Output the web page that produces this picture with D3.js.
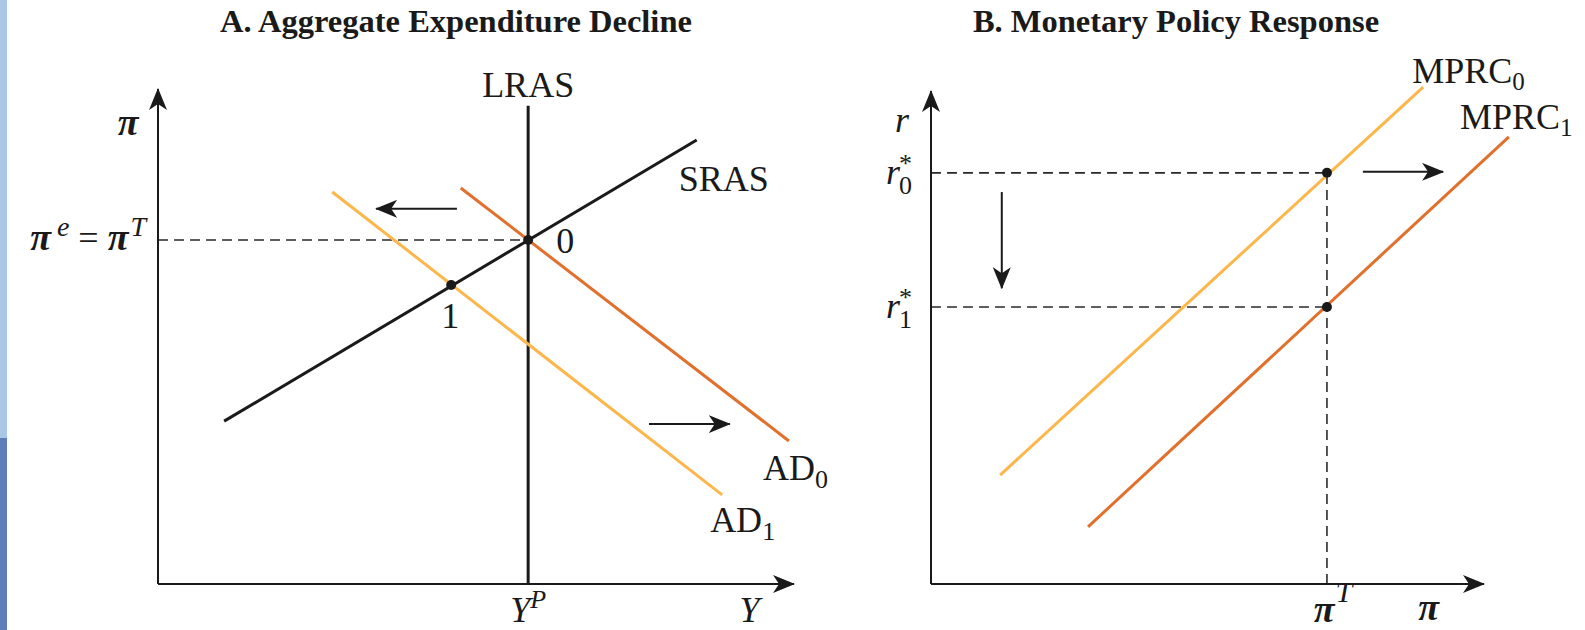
<!DOCTYPE html>
<html>
<head>
<meta charset="utf-8">
<script src="https://cdn.jsdelivr.net/npm/d3@7"></script>
<style>
  body { margin: 0; background: #fff; }
  text { font-family: "Liberation Serif", "Times New Roman", serif; fill: #1a1a1a; }
  .greek { font-weight: bold; }
</style>
</head>
<body>
<div id="chart"></div>
<script>
// ---- Panel A: aggregate expenditure decline (data units 0-100) ----
const lrasX = 58.2;
const lrasTop = 96.6;
const srasLine = [[10.4, 32.9], [84.7, 89.7]];
const ad0Line = [[47.6, 80.0], [99.2, 28.9]];
const ad1Line = [[27.4, 79.2], [88.7, 18.0]];
const pointsA = [{ id: "0", x: 58.2, y: 69.5 }, { id: "1", x: 46.1, y: 60.4 }];
const arrowsA = [[[47.0, 75.8], [34.3, 75.8]], [[77.2, 32.3], [89.9, 32.3]]];

// ---- Panel B: monetary policy response ----
const piTarget = 71.6;
const rStar = [83.4, 56.2];
const mprc0Line = [[12.5, 22.1], [89.0, 100.8]];
const mprc1Line = [[28.4, 11.6], [104.5, 90.7]];
const arrowsB = [[[78.1, 83.6], [92.6, 83.6]], [[12.8, 79.5], [12.8, 60.0]]];

const titles = ["A. Aggregate Expenditure Decline", "B. Monetary Policy Response"];

const yellow = "#fdb64a", orange = "#e1702d", ink = "#1a1a1a";

const svg = d3.select("#chart").append("svg")
    .attr("width", 1585)
    .attr("height", 630);

// blue strip at left edge
svg.append("rect").attr("x", 0).attr("y", 0).attr("width", 7).attr("height", 438).attr("fill", "#a9c8e6");
svg.append("rect").attr("x", 0).attr("y", 438).attr("width", 7).attr("height", 192).attr("fill", "#5d7eb7");

const defs = svg.append("defs");
defs.append("marker")
    .attr("id", "head")
    .attr("viewBox", "0 0 22 18")
    .attr("refX", 21).attr("refY", 9)
    .attr("markerWidth", 22).attr("markerHeight", 18)
    .attr("markerUnits", "userSpaceOnUse")
    .attr("orient", "auto")
    .append("path")
    .attr("d", "M0,0 L22,9 L0,18 L6,9 Z")
    .attr("fill", ink);

const xA = d3.scaleLinear().domain([0, 100]).range([158, 794]);
const yA = d3.scaleLinear().domain([0, 100]).range([584, 89]);
const xB = d3.scaleLinear().domain([0, 100]).range([931, 1484]);
const yB = d3.scaleLinear().domain([0, 100]).range([584, 91]);

function label(x, y, parts, anchor) {
    const t = svg.append("text").attr("x", x).attr("y", y).attr("text-anchor", anchor || "start");
    parts.forEach(p => t.append("tspan")
        .attr("class", p.gr ? "greek" : null)
        .attr("dy", p.dy || 0)
        .attr("dx", p.dx || 0)
        .style("font-size", (p.size || 36) + "px")
        .style("font-style", p.it ? "italic" : "normal")
        .text(p.t));
    return t;
}

function drawPanel(x, y, lines, points, arrows) {
    const line = d3.line().x(d => x(d[0])).y(d => y(d[1]));
    // axes
    svg.append("path").attr("d", line([[0, 0], [0, 100]]))
        .attr("stroke", ink).attr("stroke-width", 2).attr("fill", "none").attr("marker-end", "url(#head)");
    svg.append("path").attr("d", line([[0, 0], [100, 0]]))
        .attr("stroke", ink).attr("stroke-width", 2).attr("fill", "none").attr("marker-end", "url(#head)");
    // curves
    svg.append("g").selectAll("path")
        .data(lines)
        .enter().append("path")
        .attr("d", d => line(d.pts))
        .attr("stroke", d => d.color)
        .attr("stroke-width", 3)
        .attr("fill", "none");
    // shift arrows
    svg.append("g").selectAll("path")
        .data(arrows)
        .enter().append("path")
        .attr("d", d => line(d))
        .attr("stroke", ink)
        .attr("stroke-width", 2)
        .attr("fill", "none")
        .attr("marker-end", "url(#head)");
    svg.append("g").selectAll("circle")
        .data(points)
        .enter().append("circle")
        .attr("cx", d => x(d.x))
        .attr("cy", d => y(d.y))
        .attr("r", 5)
        .attr("fill", ink);
}

function dashed(line, pts) {
    svg.append("path").attr("d", line(pts))
        .attr("stroke", "#2a2a2a").attr("stroke-width", 1.6)
        .attr("stroke-dasharray", "10,6").attr("fill", "none");
}

// ---------- Panel A ----------
const lineA = d3.line().x(d => xA(d[0])).y(d => yA(d[1]));
dashed(lineA, [[0, pointsA[0].y], [pointsA[0].x, pointsA[0].y]]);
drawPanel(xA, yA, [
    { pts: [[lrasX, 0], [lrasX, lrasTop]], color: ink },
    { pts: ad0Line, color: orange },
    { pts: ad1Line, color: yellow },
    { pts: srasLine, color: ink }
], pointsA, arrowsA);

label(xA(lrasX), yA(lrasTop) - 9, [{ t: "LRAS" }], "middle");
label(xA(srasLine[1][0]) - 18, yA(srasLine[1][1]) + 51, [{ t: "SRAS" }]);
label(xA(pointsA[0].x) + 28, yA(pointsA[0].y) + 13, [{ t: pointsA[0].id }]);
label(xA(pointsA[1].x) - 1, yA(pointsA[1].y) + 43, [{ t: pointsA[1].id }], "middle");
label(xA(ad0Line[1][0]) - 26, yA(ad0Line[1][1]) + 39, [{ t: "AD" }, { t: "0", size: 26, dy: 8 }]);
label(xA(ad1Line[1][0]) - 12, yA(ad1Line[1][1]) + 37, [{ t: "AD" }, { t: "1", size: 26, dy: 8 }]);
label(xA(0) - 12, yA(pointsA[0].y) + 10, [
    { t: "π", it: true, gr: true, size: 38 }, { t: "e", it: true, size: 28, dy: -14, dx: 6 },
    { t: " = ", dy: 14 }, { t: "π", it: true, gr: true, size: 38 }, { t: "T", it: true, size: 28, dy: -14, dx: 2 }
], "end");
label(xA(0) - 30, yA(100) + 46, [{ t: "π", it: true, gr: true, size: 38 }], "middle");
label(xA(lrasX), 622, [{ t: "Y", it: true }, { t: "P", it: true, size: 26, dy: -14 }], "middle");
label(xA(93), 622, [{ t: "Y", it: true }], "middle");

// ---------- Panel B ----------
const lineB = d3.line().x(d => xB(d[0])).y(d => yB(d[1]));
dashed(lineB, [[0, rStar[0]], [piTarget, rStar[0]]]);
dashed(lineB, [[0, rStar[1]], [piTarget, rStar[1]]]);
dashed(lineB, [[piTarget, 0], [piTarget, rStar[0]]]);
drawPanel(xB, yB, [
    { pts: mprc0Line, color: yellow },
    { pts: mprc1Line, color: orange }
], [{ x: piTarget, y: rStar[0] }, { x: piTarget, y: rStar[1] }], arrowsB);

label(xB(0) - 29, yB(100) + 41, [{ t: "r", it: true }], "middle");
rStar.forEach((r, i) => {
    label(xB(0) - 45, yB(r) + 11, [
        { t: "r", it: true },
        { t: "*", size: 26, dy: -12, dx: -1 },
        { t: String(i), size: 26, dy: 22, dx: -13 }
    ]);
});
label(xB(mprc0Line[1][0]) - 11, yB(mprc0Line[1][1]) - 4, [{ t: "MPRC" }, { t: "0", size: 25, dy: 7 }]);
label(xB(mprc1Line[1][0]) - 49, yB(mprc1Line[1][1]) - 8, [{ t: "MPRC" }, { t: "1", size: 25, dy: 7 }]);
label(xB(piTarget) + 6, 622, [{ t: "π", it: true, gr: true, size: 38 }, { t: "T", it: true, size: 30, dy: -20, dx: 1 }], "middle");
label(xB(90), 620, [{ t: "π", it: true, gr: true, size: 38 }], "middle");

// ---------- titles ----------
svg.selectAll(".title")
    .data(titles)
    .enter().append("text")
    .attr("class", "title")
    .attr("x", (d, i) => i === 0 ? 456 : 1176)
    .attr("y", 32)
    .attr("text-anchor", "middle")
    .style("font-size", "32.5px")
    .style("font-weight", "bold")
    .text(d => d);
</script>
</body>
</html>
